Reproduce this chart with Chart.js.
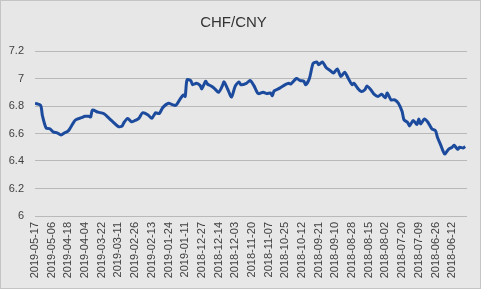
<!DOCTYPE html>
<html>
<head>
<meta charset="utf-8">
<script src="https://cdn.jsdelivr.net/npm/chart.js@4/dist/chart.umd.min.js"></script>
<style>
    html, body { margin: 0; padding: 0; background: #e7e7e7; }
    #wrap { width: 481px; height: 289px; position: relative; }
</style>
</head>
<body>
<div id="wrap"><canvas id="lineChart"></canvas></div>
<script>
// trading day index (0 = newest) and CHF/CNY rate
const days = [0, 3, 4, 6, 8, 10, 12, 14, 16, 18, 21, 22, 25, 27, 29, 30, 31, 34, 37, 40,
    42, 45, 47, 48, 50, 52, 54, 56, 58, 61, 63, 65, 67, 69, 72, 74, 76, 78, 80, 81,
    82, 84, 85, 87, 89, 90, 92, 93, 95, 97, 99, 101, 102, 104, 106, 108, 110, 111, 114, 116,
    118, 120, 121, 123, 125, 127, 128, 129, 132, 135, 137, 138, 141, 143, 145, 146, 148, 150, 152, 153,
    155, 157, 159, 161, 163, 165, 167, 169, 171, 172, 174, 176, 178, 179, 181, 183, 185, 187, 189, 190,
    192, 194, 196, 198, 199, 201, 202, 204, 206, 207, 208, 210, 212, 214, 216, 217, 219, 220, 221, 223,
    225, 226, 228, 229, 231, 232];

const rates = [6.82, 6.805, 6.73, 6.64, 6.635, 6.61, 6.605, 6.59, 6.605, 6.62, 6.685, 6.70, 6.715, 6.725, 6.725, 6.72, 6.77, 6.755, 6.745, 6.71,
    6.685, 6.65, 6.655, 6.68, 6.71, 6.685, 6.695, 6.71, 6.75, 6.735, 6.71, 6.75, 6.745, 6.79, 6.82, 6.81, 6.805, 6.845, 6.88, 6.87,
    6.99, 6.985, 6.955, 6.965, 6.95, 6.925, 6.98, 6.96, 6.945, 6.925, 6.90, 6.945, 6.975, 6.92, 6.865, 6.945, 6.975, 6.955, 6.965, 6.985,
    6.95, 6.895, 6.89, 6.90, 6.89, 6.895, 6.875, 6.91, 6.93, 6.955, 6.965, 6.96, 7.00, 6.985, 6.98, 6.955, 7.00, 7.11, 7.12, 7.10,
    7.12, 7.08, 7.06, 7.04, 7.07, 7.015, 7.045, 7.00, 6.955, 6.965, 6.93, 6.905, 6.92, 6.945, 6.92, 6.885, 6.87, 6.885, 6.86, 6.895,
    6.845, 6.845, 6.82, 6.76, 6.70, 6.68, 6.655, 6.695, 6.665, 6.705, 6.67, 6.705, 6.68, 6.635, 6.62, 6.575, 6.51, 6.475, 6.45, 6.485,
    6.50, 6.515, 6.485, 6.50, 6.495, 6.505];

// one date label every 9 trading days
const tickLabels = ["2019-05-17", "2019-05-06", "2019-04-18", "2019-04-04", "2019-03-22", "2019-03-11",
    "2019-02-26", "2019-02-13", "2019-01-24", "2019-01-11", "2018-12-27", "2018-12-14", "2018-12-03",
    "2018-11-20", "2018-11-07", "2018-10-25", "2018-10-12", "2018-09-21", "2018-09-10", "2018-08-28",
    "2018-08-15", "2018-08-02", "2018-07-20", "2018-07-09", "2018-06-26", "2018-06-12"];
const labelStep = 9;

const yTicks = [6, 6.2, 6.4, 6.6, 6.8, 7, 7.2];

const FONT = "'Liberation Sans', Arial, sans-serif";

// background + thin outer frame
const framePlugin = {
    id: "frame",
    beforeDraw(chart) {
        const c = chart.ctx;
        c.save();
        c.fillStyle = "#e7e7e7";
        c.fillRect(0, 0, chart.width, chart.height);
        c.strokeStyle = "#c4c4c4";
        c.lineWidth = 1;
        c.strokeRect(0.5, 0.5, chart.width - 1, chart.height - 1);
        c.restore();
    }
};

new Chart(document.getElementById("lineChart"), {

    type: "line",

    data: {
        datasets: [{
            label: "CHF/CNY",
            data: days.map((d, i) => ({ x: d, y: rates[i] })),
            borderColor: "#1c4b9e",
            borderWidth: 3,
            pointRadius: 0,
            tension: 0.25,
            fill: false
        }]
    },

    options: {
        responsive: true,
        maintainAspectRatio: false,
        animation: false,
        layout: {
            padding: { left: 0, right: 14, top: 0, bottom: 0 }
        },
        scales: {
            x: {
                type: "linear",
                min: 0,
                max: 233,
                afterBuildTicks: (scale) => {
                    scale.ticks = tickLabels.map((_, k) => ({ value: k * labelStep }));
                },
                afterFit: (scale) => { scale.height = 73; },
                grid: { display: false, drawTicks: false },
                border: { display: false },
                ticks: {
                    autoSkip: false,
                    minRotation: 90,
                    maxRotation: 90,
                    padding: 6,
                    color: "#404040",
                    font: { family: FONT, size: 11 },
                    callback: (value) => tickLabels[Math.round(value / labelStep)]
                }
            },
            y: {
                min: 6,
                max: 7.2,
                afterBuildTicks: (scale) => {
                    scale.ticks = yTicks.map(v => ({ value: v }));
                },
                afterFit: (scale) => { scale.width = 35; },
                grid: { color: "#b9b9b9", lineWidth: 1, drawTicks: false },
                border: { display: false },
                ticks: {
                    padding: 11,
                    color: "#404040",
                    font: { family: FONT, size: 11 },
                    callback: (value) => String(Math.round(value * 10) / 10)
                }
            }
        },
        plugins: {
            legend: { display: false },
            tooltip: { enabled: false },
            title: {
                display: true,
                text: "CHF/CNY",
                color: "#333333",
                font: { family: FONT, size: 15, weight: "normal" },
                padding: { top: 14, bottom: 19 }
            }
        }
    },

    plugins: [framePlugin]

});
</script>
</body>
</html>
